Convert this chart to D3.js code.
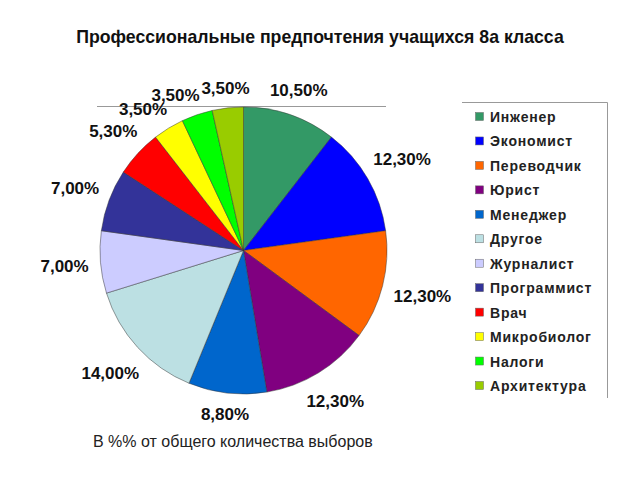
<!DOCTYPE html>
<html><head><meta charset="utf-8">
<script src="https://cdn.jsdelivr.net/npm/d3@7"></script>
<style>
body{margin:0;background:#fff;}
svg text{font-family:"Liberation Sans",Arial,sans-serif;}
</style>
</head><body>
<svg id="chart" width="640" height="480"></svg>
<script>
const title = "Профессиональные предпочтения учащихся 8а класса";
const subtitle = "В %% от общего количества выборов";
const categories = ["Инженер","Экономист","Переводчик","Юрист","Менеджер","Другое","Журналист","Программист","Врач","Микробиолог","Налоги","Архитектура"];
const values = [10.5,12.3,12.3,12.3,8.8,14.0,7.0,7.0,5.3,3.5,3.5,3.5];
const colors = ["#339966","#0000FF","#FF6600","#800080","#0066CC","#BCE0E3","#CCCCFF","#333399","#FF0000","#FFFF00","#00FF00","#99CC00"];

const svg = d3.select("#chart");
const cx = 243.5, cy = 250.5, R = 143.5;

svg.append("text").attr("x",320).attr("y",43).attr("text-anchor","middle")
  .attr("font-size",17.7).attr("font-weight","bold").attr("fill","#111").text(title);

// plot border remnant
svg.append("line").attr("x1",97).attr("x2",386).attr("y1",106.5).attr("y2",106.5).attr("stroke","#999").attr("stroke-width",1);

const data = categories.map((c,i)=>({name:c,value:values[i],color:colors[i]}));
const pie = d3.pie().value(d=>d.value).sort(null);
const arcs = pie(data);
const arc = d3.arc().innerRadius(0).outerRadius(R);

const g = svg.append("g").attr("transform",`translate(${cx},${cy})`);
g.selectAll("path").data(arcs).join("path")
  .attr("d",arc).attr("fill",d=>d.data.color)
  .attr("stroke","#333").attr("stroke-width",0.6).attr("stroke-opacity",0.8);

const fmt = v => v.toFixed(2).replace(".",",") + "%";
const lab = g.selectAll("text.lbl").data(arcs).join("text").attr("class","lbl")
  .attr("font-size",17).attr("font-weight","bold").attr("fill","#111")
  .attr("text-anchor","middle").text(d=>fmt(d.data.value));

const H = 13;
const boxes = [];
lab.each(function(d,i){
  const w = this.getBBox().width;
  boxes[i] = {w, a:(d.startAngle+d.endAngle)/2};
});
function place(b){
  const s = Math.sin(b.a), c = Math.cos(b.a);
  const ext = (b.w/2)*Math.abs(s) + (H/2)*Math.abs(c);
  const dist = R + 11.5 + ext;
  b.x = dist*s; b.y = -dist*c;
}
function overlap(p,q){
  return Math.abs(p.x-q.x) < (p.w+q.w)/2 + 1 && Math.abs(p.y-q.y) < H + 1;
}
boxes.forEach(place);
const n = boxes.length;
for(let i=n-2;i>=0;i--){
  const nb = boxes[i+1];
  let k=0;
  while(overlap(boxes[i],nb) && k<200){ boxes[i].a -= 0.005; place(boxes[i]); k++; }
}
lab.each(function(d,i){
  d3.select(this).attr("x",boxes[i].x).attr("y",boxes[i].y + H/2);
});

// legend
const lg = svg.append("g");
lg.append("path").attr("d","M462,102.5H607.5V398").attr("fill","none").attr("stroke","#999").attr("stroke-width",1);
const ly = d3.scalePoint().domain(categories).range([117,386]);
const items = lg.selectAll("g.item").data(data).join("g").attr("class","item")
  .attr("transform",d=>`translate(0,${ly(d.name)})`);
items.append("rect").attr("x",475.5).attr("y",-4.5).attr("width",8).attr("height",8)
  .attr("fill",d=>d.color).attr("stroke","#666").attr("stroke-width",0.5);
items.append("text").attr("x",490).attr("y",5).attr("font-size",14).attr("font-weight","bold")
  .attr("letter-spacing",0.8).attr("fill","#222").text(d=>d.name);

svg.append("text").attr("x",93).attr("y",447).attr("font-size",16).attr("fill","#222").text(subtitle);
</script>
</body></html>
